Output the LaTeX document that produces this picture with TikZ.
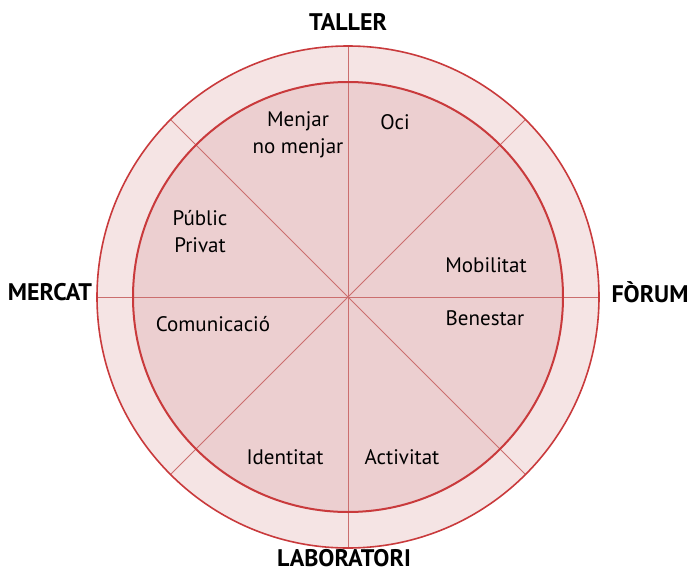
\documentclass[tikz,border=0pt]{standalone}
\usepackage{fontspec}
\setmainfont{PT Sans}
\usepackage{xcolor}
\definecolor{ringred}{HTML}{C93A3C}
\definecolor{spokered}{HTML}{CB6E6E}
\definecolor{outerfill}{HTML}{F5E4E4}
\definecolor{innerfill}{HTML}{ECCFD0}
\tikzset{
  sector/.style={font=\fontsize{21}{27}\selectfont, align=center, inner sep=0pt},
  space/.style={font=\fontsize{24}{28}\selectfont\bfseries, inner sep=0pt}
}

\begin{document}
\begin{tikzpicture}[x=1pt, y=-1pt]
\useasboundingbox (0,0) rectangle (691,573);
\coordinate (o) at (348,297);
\fill[outerfill] (o) circle (251);
\fill[innerfill] (o) circle (215);
\draw[spokered, thick] (o) -- ++(0,-251);
\draw[spokered, thick] (o) -- ++(0,251);
\draw[spokered, thick] (o) -- ++(-251,0);
\draw[spokered, thick] (o) -- ++(251,0);
\draw[spokered, thick] (o) -- ++(135:251 and -251);
\draw[spokered, thick] (o) -- ++(45:251 and -251);
\draw[spokered, thick] (o) -- ++(-45:251 and -251);
\draw[spokered, thick] (o) -- ++(-135:251 and -251);
\draw[ringred, line width=1.6pt] (o) circle (251);
\draw[ringred, line width=2pt] (o) circle (215);
\node[sector] (menjar) at (298,135) {Menjar\\no menjar};
\node[sector] (oci) at (395,122) {Oci};
\node[sector] (public) at (200,232) {Públic\\Privat};
\node[sector] (mobilitat) at (486,265) {Mobilitat};
\node[sector] (benestar) at (485,318) {Benestar};
\node[sector] (comunicacio) at (213,324) {Comunicació};
\node[sector] (identitat) at (285,457) {Identitat};
\node[sector] (activitat) at (402,457) {Activitat};
\node[space] (taller) at (348,22) {TALLER};
\node[space] (laboratori) at (344,558) {LABORATORI};
\node[space] (mercat) at (50,292) {MERCAT};
\node[space] (forum) at (650,292) {FÒRUM};
\end{tikzpicture}
\end{document}
